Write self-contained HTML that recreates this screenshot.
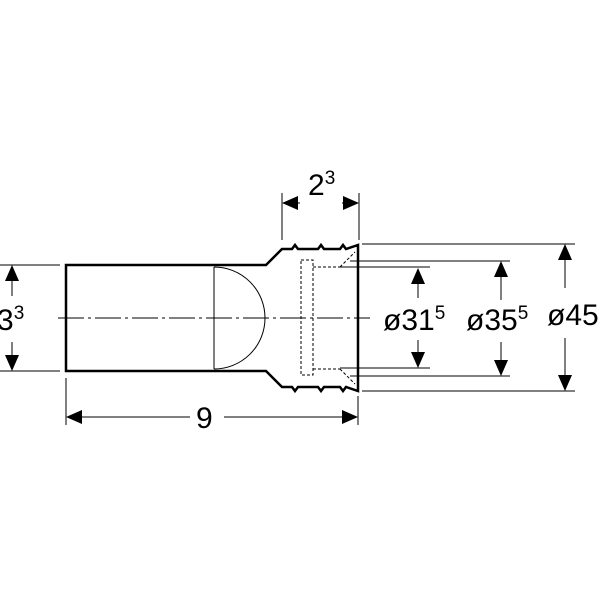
<!DOCTYPE html>
<html><head><style>body{margin:0;background:#fff}svg{display:block}text{font-family:"Liberation Sans",Arial,sans-serif;fill:#000}</style></head>
<body>
<svg width="600" height="600" viewBox="0 0 600 600" xmlns="http://www.w3.org/2000/svg">
<g fill="none" stroke="#000">
<path d="M66,265 H266 L282,249 H292 L295,245 L298,249 H318 L321,245 L324,249 H340 L343,245 L346,249 L358,245 V391 L346,387 L343,391 L340,387 H324 L321,391 L318,387 H298 L295,391 L292,387 H282 L266,371 H66 Z" stroke-width="2.5"/>
<path d="M214,267 V369 M214,267 A51,51 0 0 1 214,369" stroke-width="1"/>
<path d="M301,260 H313 V375 H301 Z" stroke-width="1" stroke-dasharray="3,2"/>
<path d="M313,267 H340 M313,369 H340 M340,267 L355,252 M340,369 L355,384" stroke-width="1" stroke-dasharray="3,2"/>
<path d="M58,318 H370" stroke-width="1" stroke-dasharray="26,4,3,4"/>
<path d="M0,265 H60 M0,371 H60 M66,378 V425 M358,396 V425 M282,193 V240 M359,193 V240
 M362,244 H575 M362,391 H575 M350,261 H510 M350,376 H510 M340,267 H430 M340,368 H430" stroke-width="1"/>
<path d="M12,268 V296 M12,342 V368 M70,417 H190 M224,417 H354 M286,203 H300 M342,203 H355
 M418,270 H418 V298 M418,340 V365 M501,264 V300 M501,342 V373 M565,247 V288 M565,338 V388" stroke-width="1"/>
</g>
<g fill="#000">
<path d="M12,265 L5,281 H19 Z M12,371 L5,355 H19 Z"/>
<path d="M66,417 L82,410 V424 Z M358,417 L342,410 V424 Z"/>
<path d="M282,203 L298,196 V210 Z M359,203 L343,196 V210 Z"/>
<path d="M418,268 L411,284 H425 Z M418,368 L411,352 H425 Z"/>
<path d="M501,261 L494,277 H508 Z M501,376 L494,360 H508 Z"/>
<path d="M565,244 L558,260 H572 Z M565,391 L558,375 H572 Z"/>
</g>
<text x="-3" y="330" font-size="30">3<tspan font-size="19" dy="-11">3</tspan></text>
<text x="196" y="428" font-size="30">9</text>
<text x="308" y="195" font-size="30">2<tspan font-size="19" dy="-11">3</tspan></text>
<text x="383" y="330" font-size="30">ø31<tspan font-size="19" dy="-11">5</tspan></text>
<text x="466" y="330" font-size="30">ø35<tspan font-size="19" dy="-11">5</tspan></text>
<text x="547" y="325" font-size="30">ø45</text>
</svg>
</body></html>
